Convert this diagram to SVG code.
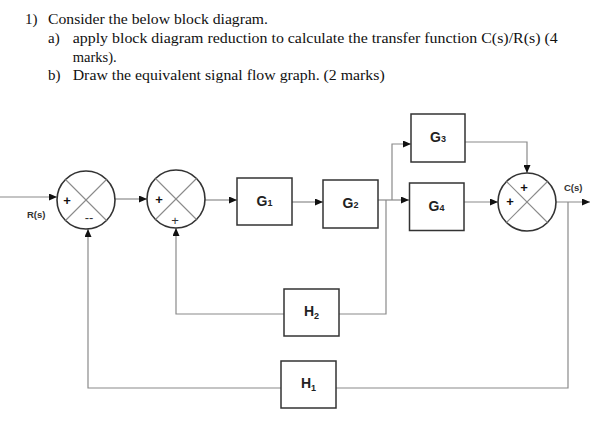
<svg xmlns="http://www.w3.org/2000/svg" width="616" height="421" viewBox="0 0 616 421">
  <style>
    .title { font-family: "Liberation Serif", "Times New Roman", serif; font-size: 15px; fill: #111; }
    .box { fill: #fff; stroke: #333; stroke-width: 1.5; }
    .sum { fill: #fff; stroke: #333; stroke-width: 1.6; }
    .xline { stroke: #8a8a8a; stroke-width: 1.1; }
    .wire { fill: none; stroke: #8a8a8a; stroke-width: 1.2; }
    .lbl { font-family: "Liberation Sans", Arial, sans-serif; font-weight: bold; font-size: 14px; fill: #222; text-anchor: middle; }
    .sub { font-size: 9px; }
    .sig { font-family: "Liberation Sans", Arial, sans-serif; font-weight: bold; font-size: 9.5px; fill: #333; }
    .sign { font-family: "Liberation Sans", Arial, sans-serif; font-weight: bold; font-size: 13px; fill: #111; text-anchor: middle; }
    .thin { font-weight: normal; fill: #333; }
  </style>
  <defs>
    <marker id="arr" markerWidth="8" markerHeight="7" refX="8" refY="3.5" orient="auto" markerUnits="userSpaceOnUse">
      <path d="M0,0 L8,3.5 L0,7 z" fill="#111"/>
    </marker>
  </defs>
  <rect width="616" height="421" fill="#fff"/>

  <g id="question">
    <text class="title" x="25" y="24">1)</text>
    <text class="title" x="48" y="24" textLength="220" lengthAdjust="spacingAndGlyphs">Consider the below block diagram.</text>
    <text class="title" x="48" y="43">a)</text>
    <text class="title" x="72.7" y="43" textLength="485" lengthAdjust="spacingAndGlyphs">apply block diagram reduction to calculate the transfer function C(s)/R(s) (4</text>
    <text class="title" x="72.7" y="62" textLength="44" lengthAdjust="spacingAndGlyphs">marks).</text>
    <text class="title" x="48" y="80">b)</text>
    <text class="title" x="72.7" y="80" textLength="312" lengthAdjust="spacingAndGlyphs">Draw the equivalent signal flow graph. (2 marks)</text>
  </g>

  <g id="connectors">
    <line class="wire" x1="0" y1="197" x2="57" y2="197" marker-end="url(#arr)"/>
    <line class="wire" x1="115" y1="199" x2="147" y2="199" marker-end="url(#arr)"/>
    <line class="wire" x1="205" y1="200" x2="237" y2="200" marker-end="url(#arr)"/>
    <line class="wire" x1="292" y1="202" x2="323" y2="202" marker-end="url(#arr)"/>
    <line class="wire" x1="378" y1="200" x2="409" y2="200" marker-end="url(#arr)"/>
    <polyline class="wire" points="392,200 392,144 411,144" marker-end="url(#arr)"/>
    <polyline class="wire" points="386,200 386,314 339,314"/>
    <polyline class="wire" points="284,314 176,314 176,228" marker-end="url(#arr)"/>
    <polyline class="wire" points="465,142 527,142 527,173" marker-end="url(#arr)"/>
    <line class="wire" x1="464" y1="202" x2="498" y2="202" marker-end="url(#arr)"/>
    <line class="wire" x1="556" y1="202" x2="590" y2="202" marker-end="url(#arr)"/>
    <polyline class="wire" points="568,202 568,388 336,388"/>
    <polyline class="wire" points="281,388 88,388 88,229" marker-end="url(#arr)"/>
  </g>

  <g id="sum1">
    <circle class="sum" cx="86" cy="200" r="29"/>
    <line class="xline" x1="65.5" y1="179.5" x2="106.5" y2="220.5"/>
    <line class="xline" x1="65.5" y1="220.5" x2="106.5" y2="179.5"/>
    <text class="sign" x="67" y="204.5">+</text>
    <text class="sign thin" x="89" y="222" font-size="12">--</text>
  </g>

  <g id="sum2">
    <circle class="sum" cx="176" cy="199" r="29"/>
    <line class="xline" x1="155.5" y1="178.5" x2="196.5" y2="219.5"/>
    <line class="xline" x1="155.5" y1="219.5" x2="196.5" y2="178.5"/>
    <text class="sign" x="159" y="204">+</text>
    <text class="sign thin" x="175" y="225">+</text>
  </g>

  <g id="sum3">
    <circle class="sum" cx="527" cy="202" r="29"/>
    <line class="xline" x1="506.5" y1="181.5" x2="547.5" y2="222.5"/>
    <line class="xline" x1="506.5" y1="222.5" x2="547.5" y2="181.5"/>
    <text class="sign" x="524" y="191.5">+</text>
    <text class="sign" x="510" y="205.5">+</text>
  </g>

  <g id="G1">
    <rect class="box" x="237" y="178" width="55" height="47"/>
    <text class="lbl" x="264.5" y="206">G<tspan class="sub">1</tspan></text>
  </g>
  <g id="G2">
    <rect class="box" x="323" y="180" width="55" height="48"/>
    <text class="lbl" x="350.5" y="208">G<tspan class="sub">2</tspan></text>
  </g>
  <g id="G3">
    <rect class="box" x="411" y="114" width="54" height="48"/>
    <text class="lbl" x="438" y="142">G<tspan class="sub">3</tspan></text>
  </g>
  <g id="G4">
    <rect class="box" x="409.5" y="183" width="54.5" height="47.5"/>
    <text class="lbl" x="436.5" y="211">G<tspan class="sub">4</tspan></text>
  </g>
  <g id="H2">
    <rect class="box" x="284" y="289" width="55" height="47"/>
    <text class="lbl" x="311.5" y="316">H<tspan class="sub" font-size="10" dy="3">2</tspan></text>
  </g>
  <g id="H1">
    <rect class="box" x="281" y="361" width="55" height="47"/>
    <text class="lbl" x="308.5" y="388">H<tspan class="sub" font-size="10" dy="3">1</tspan></text>
  </g>

  <g id="labels">
    <text class="sig" x="27" y="218">R(s)</text>
    <text class="sig" x="564" y="191">C(s)</text>
  </g>
</svg>
